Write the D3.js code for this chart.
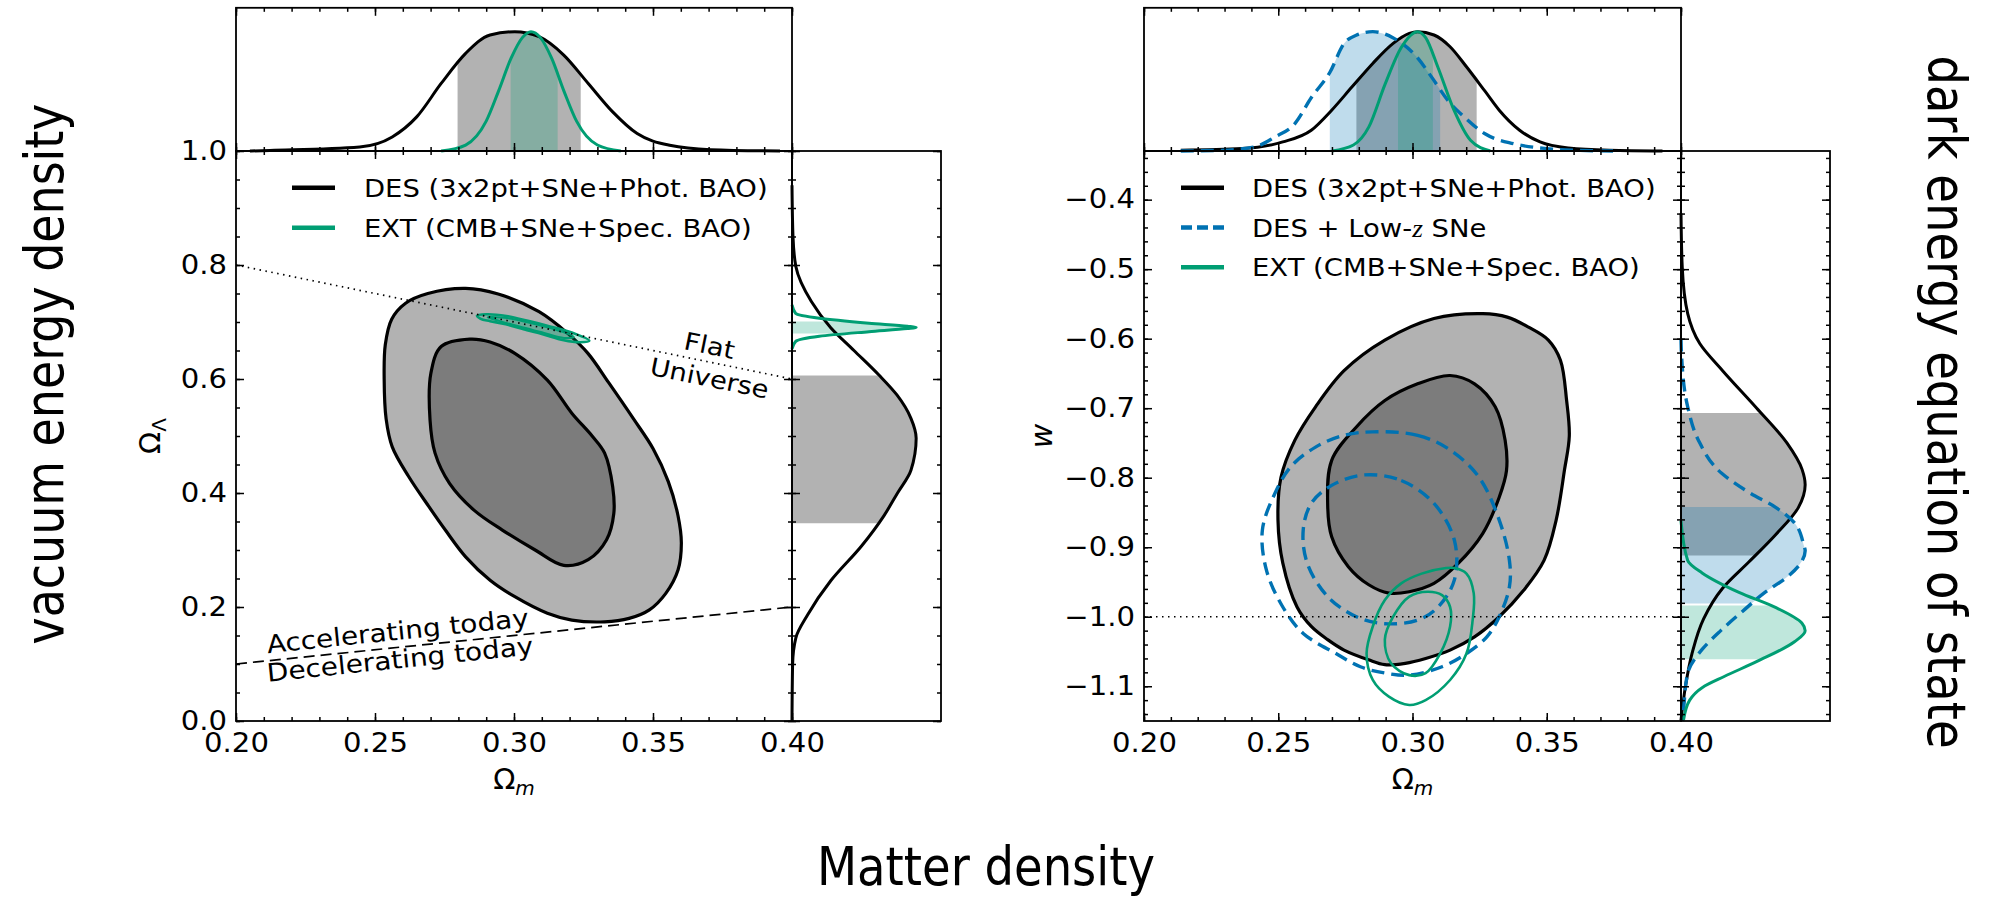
<!DOCTYPE html>
<html>
<head>
<meta charset="utf-8">
<script src="https://cdn.jsdelivr.net/npm/d3@7"></script>
<style>
  body { margin: 0; background: #fff; }
  svg text { font-family: "DejaVu Sans", sans-serif; }
</style>
</head>
<body>
<svg id="fig" width="1994" height="902"></svg>
<script>
// ---- tick values ----
const omMajor = [0.20, 0.25, 0.30, 0.35, 0.40];
const olMajor = [0.0, 0.2, 0.4, 0.6, 0.8, 1.0];
const wMajor  = [-1.1, -1.0, -0.9, -0.8, -0.7, -0.6, -0.5, -0.4];

// ---- left panel: Omega_m vs Omega_Lambda contours ----
const desOuterL = [[0.2826,0.759],[0.2943,0.749],[0.3090,0.718],[0.3193,0.680],[0.3266,0.645],[0.3340,0.594],
  [0.3430,0.530],[0.3500,0.478],[0.3555,0.420],[0.3590,0.360],[0.3602,0.312],[0.3590,0.265],[0.3546,0.224],
  [0.3487,0.195],[0.3414,0.180],[0.3326,0.174],[0.3208,0.177],[0.3120,0.189],[0.3003,0.218],[0.2914,0.247],
  [0.2826,0.288],[0.2753,0.335],[0.2694,0.376],[0.2621,0.429],[0.2562,0.481],[0.2540,0.530],[0.2533,0.600],
  [0.2537,0.660],[0.2560,0.705],[0.2610,0.733],[0.2690,0.750]];
const desInnerL = [[0.2841,0.670],[0.2914,0.665],[0.3003,0.645],[0.3120,0.598],[0.3208,0.540],[0.3281,0.500],
  [0.3326,0.470],[0.3355,0.411],[0.3359,0.364],[0.3333,0.318],[0.3267,0.283],[0.3179,0.273],[0.3076,0.300],
  [0.2958,0.335],[0.2856,0.370],[0.2768,0.417],[0.2716,0.470],[0.2698,0.528],[0.2701,0.610],[0.2738,0.657]];
const extOuterL = [[0.2867,0.711],[0.2900,0.7135],[0.2973,0.7105],[0.3050,0.702],[0.3120,0.6935],[0.3208,0.6815],
  [0.3271,0.667],[0.3237,0.6645],[0.3179,0.668],[0.3100,0.679],[0.3047,0.6855],[0.2970,0.696],[0.2914,0.7015],[0.2880,0.7055]];
const extInnerL = [[0.2905,0.708],[0.2975,0.707],[0.3060,0.698],[0.3140,0.688],[0.3215,0.674],[0.3180,0.672],
  [0.3100,0.682],[0.3020,0.692],[0.2950,0.7015]];

// 1D posteriors, left panel  [value, normalised density]
const margOmDesL = [[0.205,0],[0.2122,0.005],[0.2445,0.034],[0.2562,0.118],[0.265,0.286],[0.2738,0.566],[0.2826,0.818],
  [0.2914,0.972],[0.3003,1],[0.309,0.958],[0.3179,0.804],[0.3267,0.566],[0.3355,0.328],[0.3443,0.146],[0.356,0.048],
  [0.3707,0.011],[0.3957,0]];
const margOmExtL = [[0.2738,0],[0.2826,0.05],[0.2900,0.25],[0.2944,0.5],[0.2990,0.78],[0.3030,0.95],[0.3061,1],
  [0.3095,0.95],[0.3135,0.78],[0.3180,0.5],[0.3225,0.25],[0.3300,0.05],[0.3384,0]];
const margOlDes = [[0.94,0],[0.85,0.008],[0.7975,0.031],[0.736,0.156],[0.69,0.312],[0.65,0.499],[0.607,0.70],
  [0.572,0.845],[0.531,0.958],[0.496,1.0],[0.44,0.958],[0.40,0.85],[0.36,0.74],[0.307,0.56],[0.246,0.312],
  [0.186,0.125],[0.146,0.031],[0.10,0.005],[0.0,0]];
const margOlExt = [[0.730,0],[0.715,0.03],[0.7067,0.22],[0.698,0.62],[0.6925,0.93],[0.6905,1],[0.6885,0.93],
  [0.683,0.62],[0.675,0.22],[0.666,0.03],[0.653,0]];
const bandsOmL = [[0.2797,0.3240],[0.2988,0.3157]];   // DES, EXT
const bandsOl  = [[0.347,0.606],[0.680,0.701]];       // DES, EXT

// ---- right panel: Omega_m vs w contours ----
const desOuterR = [[0.3262,-0.564],[0.3353,-0.569],[0.3430,-0.583],[0.3506,-0.602],[0.3551,-0.631],[0.3574,-0.689],
  [0.3584,-0.740],[0.3566,-0.789],[0.3535,-0.861],[0.3490,-0.919],[0.3414,-0.962],[0.3323,-1.000],[0.3231,-1.029],
  [0.3140,-1.048],[0.3049,-1.060],[0.2973,-1.067],[0.2897,-1.069],[0.2836,-1.062],[0.2745,-1.048],[0.2684,-1.033],
  [0.2623,-1.014],[0.2570,-0.986],[0.2517,-0.923],[0.2499,-0.861],[0.2510,-0.800],[0.2562,-0.746],[0.2639,-0.698],
  [0.2745,-0.646],[0.2897,-0.602],[0.3080,-0.571]];
const desInnerR = [[0.3140,-0.653],[0.3231,-0.665],[0.3308,-0.698],[0.3345,-0.746],[0.3350,-0.790],[0.3323,-0.828],
  [0.3262,-0.880],[0.3171,-0.923],[0.3080,-0.952],[0.2988,-0.964],[0.2912,-0.966],[0.2837,-0.954],[0.2761,-0.928],
  [0.2699,-0.885],[0.2684,-0.837],[0.2699,-0.775],[0.2791,-0.727],[0.2897,-0.689],[0.3019,-0.665]];
const lowzOuter = [[0.2852,-0.734],[0.3019,-0.739],[0.3140,-0.760],[0.3247,-0.799],[0.3323,-0.861],[0.3361,-0.919],
  [0.3361,-0.957],[0.3323,-1.000],[0.3277,-1.029],[0.3201,-1.053],[0.3110,-1.072],[0.2988,-1.084],[0.2897,-1.081],
  [0.2806,-1.072],[0.2715,-1.053],[0.2593,-1.024],[0.2517,-0.986],[0.2456,-0.933],[0.2441,-0.875],[0.2487,-0.823],
  [0.2547,-0.784],[0.2639,-0.756],[0.2745,-0.739]];
const lowzInner = [[0.2821,-0.796],[0.2958,-0.804],[0.3080,-0.837],[0.3156,-0.890],[0.3156,-0.947],[0.3095,-0.986],
  [0.3019,-1.005],[0.2897,-1.010],[0.2791,-1.000],[0.2684,-0.971],[0.2608,-0.923],[0.2593,-0.875],[0.2623,-0.837],[0.2699,-0.811]];
const extOuterR = [[0.3125,-0.930],[0.3156,-0.930],[0.3201,-0.938],[0.3228,-0.966],[0.3224,-1.005],[0.3201,-1.053],
  [0.3140,-1.091],[0.3049,-1.120],[0.2988,-1.127],[0.2912,-1.115],[0.2852,-1.091],[0.2829,-1.053],[0.2852,-1.014],
  [0.2897,-0.976],[0.2958,-0.952],[0.3034,-0.938]];
const extInnerR = [[0.3057,-0.964],[0.3110,-0.969],[0.3140,-0.986],[0.3140,-1.014],[0.3103,-1.053],[0.3049,-1.081],
  [0.2988,-1.084],[0.2920,-1.067],[0.2897,-1.033],[0.2928,-1.000],[0.2988,-0.971]];

// 1D posteriors, right panel
const margOmDesR = [[0.2137,0.006],[0.2365,0.02],[0.2517,0.076],[0.2623,0.174],[0.2699,0.342],[0.2775,0.538],
  [0.2852,0.734],[0.2928,0.902],[0.2988,0.986],[0.3019,1],[0.308,0.972],[0.314,0.874],[0.3201,0.706],[0.327,0.501],
  [0.3323,0.342],[0.3399,0.174],[0.3475,0.076],[0.3581,0.025],[0.3733,0.006],[0.3931,0]];
const margOmLowz = [[0.2137,0],[0.228,0.005],[0.241,0.033],[0.2487,0.117],[0.2562,0.23],[0.2624,0.45],[0.2692,0.658],
  [0.2745,0.9],[0.279,0.97],[0.2852,1],[0.2927,0.95],[0.3019,0.78],[0.3072,0.617],[0.3133,0.42],[0.3194,0.283],
  [0.327,0.144],[0.3377,0.061],[0.35,0.02],[0.3625,0.005],[0.375,0]];
const margOmExtR = [[0.2700,0],[0.2780,0.05],[0.2837,0.2],[0.2898,0.56],[0.2958,0.867],[0.3019,1],[0.3049,0.95],
  [0.3095,0.7],[0.3155,0.34],[0.3216,0.09],[0.329,0]];
const margWDes = [[-0.42,0],[-0.497,0.01],[-0.564,0.054],[-0.607,0.151],[-0.646,0.335],[-0.70,0.61],[-0.75,0.853],
  [-0.788,0.975],[-0.810,1.0],[-0.843,0.945],[-0.882,0.762],[-0.921,0.548],[-0.959,0.335],[-1.003,0.182],[-1.052,0.09],
  [-1.10,0.036],[-1.149,0]];
const margWLowz = [[-0.60,0],[-0.626,0.005],[-0.698,0.054],[-0.746,0.14],[-0.794,0.33],[-0.822,0.556],[-0.843,0.765],
  [-0.865,0.914],[-0.898,0.99],[-0.905,1.0],[-0.921,0.97],[-0.943,0.854],[-0.965,0.676],[-0.992,0.497],[-1.02,0.32],
  [-1.047,0.17],[-1.081,0.054],[-1.134,0.02],[-1.15,0.01]];
const margWExt = [[-0.862,0],[-0.919,0.054],[-0.937,0.17],[-0.965,0.467],[-0.987,0.765],[-1.009,0.973],[-1.02,1.0],
  [-1.036,0.914],[-1.064,0.616],[-1.086,0.348],[-1.102,0.17],[-1.12,0.07],[-1.149,0.02]];
const bandsOmR = [[0.2791,0.3239],[0.2692,0.3103],[0.2946,0.3076]];   // DES, DES+low-z, EXT
const bandsW   = [[-0.912,-0.707],[-0.981,-0.842],[-1.061,-0.984]];

const legendL = ['DES (3x2pt+SNe+Phot. BAO)', 'EXT (CMB+SNe+Spec. BAO)'];
const legendR = ['DES (3x2pt+SNe+Phot. BAO)', 'DES + Low-z SNe', 'EXT (CMB+SNe+Spec. BAO)'];

// ---- styling ----
const BLACK = '#000', BLUE = '#0072B2', GREEN = '#009E73';
const DASH = '13,7';
const SX = 1.12;            // text in this figure is slightly wider than tall
const svg = d3.select('#fig');
const closed = d3.line().curve(d3.curveCatmullRomClosed.alpha(0.5));

// ---- layout ----
const L = { x0: 236, x1: 792, y0: 721, y1: 151, top: 7.8, side: 941 };
const R = { x0: 1144, x1: 1681, y0: 721, y1: 151, top: 7.8, side: 1830 };

const xL = d3.scaleLinear([0.2, 0.4], [L.x0, L.x1]);
const yL = d3.scaleLinear([0, 1], [L.y0, L.y1]);
const hTopL = d3.scaleLinear([0, 1.2], [L.y1, L.top]);
const hSideL = d3.scaleLinear([0, 1.2], [L.x1, L.side]);

const xR = d3.scaleLinear([0.2, 0.4], [R.x0, R.x1]);
const yR = d3.scaleLinear([-1.15, -0.33], [R.y0, R.y1]);
const hTopR = d3.scaleLinear([0, 1.2], [R.y1, R.top]);
const hSideR = d3.scaleLinear([0, 1.2], [R.x1, R.side]);

function frame(x0, y0, x1, y1) {
  svg.append('rect')
    .attr('x', x0).attr('y', y0).attr('width', x1 - x0).attr('height', y1 - y0)
    .attr('fill', 'none').attr('stroke', BLACK).attr('stroke-width', 1.8);
}

// inward ticks, matplotlib style: minor + major, labels only where fmt given
function ticks(axisFn, scale, tx, ty, majors, minors, fmt, pad) {
  const gMin = svg.append('g').attr('transform', `translate(${tx},${ty})`)
    .call(axisFn(scale).tickValues(minors).tickSizeInner(-4).tickSizeOuter(0).tickFormat(''));
  const gMaj = svg.append('g').attr('transform', `translate(${tx},${ty})`)
    .call(axisFn(scale).tickValues(majors).tickSizeInner(-8).tickSizeOuter(0)
      .tickPadding(pad || 13).tickFormat(fmt || ''));
  [gMin, gMaj].forEach(s => {
    s.select('.domain').remove();
    s.selectAll('line').attr('stroke', BLACK).attr('stroke-width', 1.5);
  });
  gMaj.selectAll('text')
    .attr('font-size', 26).attr('fill', BLACK).attr('font-family', 'DejaVu Sans')
    .attr('transform', `scale(${SX},1)`);
}

function contour(pts, x, y, o) {
  svg.append('path')
    .attr('d', closed(pts.map(p => [x(p[0]), y(p[1])])))
    .attr('fill', o.fill || 'none')
    .attr('fill-opacity', o.fillOpacity == null ? 1 : o.fillOpacity)
    .attr('stroke', o.stroke || 'none')
    .attr('stroke-width', o.width || 3)
    .attr('stroke-dasharray', o.dash || null)
    .attr('stroke-linejoin', 'round');
}

let clipN = 0;
function clipRect(x, y, w, h) {
  const id = 'clip' + (clipN++);
  svg.append('clipPath').attr('id', id).append('rect')
    .attr('x', x).attr('y', y).attr('width', w).attr('height', h);
  return `url(#${id})`;
}

// top marginal: density drawn upward from the shared x axis
function topFill(pts, x, h, band, col, op) {
  const d = pts.slice().sort((a, b) => a[0] - b[0]);
  svg.append('path')
    .attr('clip-path', clipRect(x(band[0]), h(1.2), x(band[1]) - x(band[0]), h(0) - h(1.2)))
    .attr('d', d3.area().x(p => x(p[0])).y0(h(0)).y1(p => h(p[1])).curve(d3.curveMonotoneX)(d))
    .attr('fill', col).attr('fill-opacity', op);
}
function topLine(pts, x, h, col, dash) {
  const d = pts.slice().sort((a, b) => a[0] - b[0]);
  svg.append('path')
    .attr('d', d3.line().x(p => x(p[0])).y(p => h(p[1])).curve(d3.curveMonotoneX)(d))
    .attr('fill', 'none').attr('stroke', col).attr('stroke-width', dash ? 3.4 : 3)
    .attr('stroke-dasharray', dash || null);
}
// side marginal: density drawn rightward from the shared y axis
function sideFill(pts, y, h, band, col, op) {
  const d = pts.slice().sort((a, b) => b[0] - a[0]);
  svg.append('path')
    .attr('clip-path', clipRect(h(0), y(band[1]), h(1.2) - h(0), y(band[0]) - y(band[1])))
    .attr('d', d3.area().y(p => y(p[0])).x0(h(0)).x1(p => h(p[1])).curve(d3.curveMonotoneY)(d))
    .attr('fill', col).attr('fill-opacity', op);
}
function sideLine(pts, y, h, col, dash) {
  const d = pts.slice().sort((a, b) => b[0] - a[0]);
  svg.append('path')
    .attr('d', d3.line().y(p => y(p[0])).x(p => h(p[1])).curve(d3.curveMonotoneY)(d))
    .attr('fill', 'none').attr('stroke', col).attr('stroke-width', dash ? 3.4 : 3)
    .attr('stroke-dasharray', dash || null);
}

function stretchedText(x, y, str, size, rot, anchor) {
  return svg.append('text')
    .attr('transform', `translate(${x},${y}) rotate(${rot || 0}) scale(${SX},1)`)
    .attr('font-size', size).attr('text-anchor', anchor || 'start').attr('fill', BLACK)
    .text(str);
}

function legend(labels, styles, lx0, lx1, tx, y0, step) {
  labels.forEach((lab, i) => {
    const yy = y0 + i * step;
    svg.append('line').attr('x1', lx0).attr('x2', lx1).attr('y1', yy).attr('y2', yy)
      .attr('stroke', styles[i].col).attr('stroke-width', 4.5)
      .attr('stroke-dasharray', styles[i].dash || null);
    const t = svg.append('text')
      .attr('transform', `translate(${tx},${yy + 9}) scale(${SX},1)`)
      .attr('font-size', 24.5).attr('fill', BLACK);
    const m = lab.match(/^(.*-)z( .*)$/);
    if (m) {
      t.append('tspan').text(m[1]);
      t.append('tspan').attr('font-family', 'Liberation Serif').attr('font-style', 'italic').text('z');
      t.append('tspan').text(m[2]);
    } else t.text(lab);
  });
}

function omegaLabel(cx, by, sub, rot) {
  const t = svg.append('text')
    .attr('transform', `translate(${cx},${by}) rotate(${rot || 0})`)
    .attr('text-anchor', 'middle').attr('font-family', 'Liberation Serif').attr('fill', BLACK);
  t.append('tspan').attr('font-size', 29).text('\u03A9');
  t.append('tspan').attr('font-size', 20).attr('dy', 6)
    .attr('font-style', sub === 'm' ? 'italic' : 'normal').text(sub);
}

// ================= LEFT PANEL =================
contour(desOuterL, xL, yL, { fill: BLACK, fillOpacity: 0.3, stroke: BLACK, width: 3.2 });
contour(desInnerL, xL, yL, { fill: BLACK, fillOpacity: 0.3, stroke: BLACK, width: 3.2 });
contour(extOuterL, xL, yL, { fill: GREEN, fillOpacity: 0.25, stroke: GREEN, width: 2.6 });
contour(extInnerL, xL, yL, { fill: GREEN, fillOpacity: 0.2, stroke: GREEN, width: 2 });

// flat universe and acceleration boundaries
const flat = [[0.2, 0.8], [0.4, 0.6]];
const accel = [[0.2, 0.1], [0.4, 0.2]];
svg.append('path').attr('d', d3.line()(flat.map(p => [xL(p[0]), yL(p[1])])))
  .attr('stroke', BLACK).attr('stroke-width', 1.7).attr('stroke-dasharray', '1.5,4.5').attr('fill', 'none');
svg.append('path').attr('d', d3.line()(accel.map(p => [xL(p[0]), yL(p[1])])))
  .attr('stroke', BLACK).attr('stroke-width', 1.7).attr('stroke-dasharray', '11,6').attr('fill', 'none');

const angFlat = Math.atan2(yL(0.6) - yL(0.8), xL(0.4) - xL(0.2)) * 180 / Math.PI;
const angAcc = Math.atan2(yL(0.2) - yL(0.1), xL(0.4) - xL(0.2)) * 180 / Math.PI;
stretchedText(xL(0.3697), yL(0.6596) + 9, 'Flat', 24.5, angFlat, 'middle');
stretchedText(xL(0.3697), yL(0.6026) + 9, 'Universe', 24.5, angFlat, 'middle');
stretchedText(xL(0.2114), yL(0.119), 'Accelerating today', 25, angAcc);
stretchedText(xL(0.2114), yL(0.069), 'Decelerating today', 25, angAcc);

// marginals
topFill(margOmDesL, xL, hTopL, bandsOmL[0], BLACK, 0.3);
topFill(margOmExtL, xL, hTopL, bandsOmL[1], GREEN, 0.25);
topLine(margOmDesL, xL, hTopL, BLACK);
topLine(margOmExtL, xL, hTopL, GREEN);
sideFill(margOlDes, yL, hSideL, bandsOl[0], BLACK, 0.3);
sideFill(margOlExt, yL, hSideL, bandsOl[1], GREEN, 0.25);
sideLine(margOlDes, yL, hSideL, BLACK);
sideLine(margOlExt, yL, hSideL, GREEN);

// frames and ticks
frame(L.x0, L.y1, L.x1, L.y0);
frame(L.x0, L.top, L.x1, L.y1);
frame(L.x1, L.y1, L.side, L.y0);
const omMinorL = xL.ticks(20), olMinor = yL.ticks(20);
ticks(d3.axisBottom, xL, 0, L.y0, omMajor, omMinorL, d3.format('.2f'));
ticks(d3.axisTop, xL, 0, L.y1, omMajor, omMinorL);
ticks(d3.axisBottom, xL, 0, L.y1, omMajor, omMinorL);
ticks(d3.axisTop, xL, 0, L.top, omMajor, omMinorL);
ticks(d3.axisLeft, yL, L.x0, 0, olMajor, olMinor, d3.format('.1f'), 8);
ticks(d3.axisRight, yL, L.x1, 0, olMajor, olMinor);
ticks(d3.axisLeft, yL, L.x1, 0, olMajor, olMinor);
ticks(d3.axisRight, yL, L.side, 0, olMajor, olMinor);

legend(legendL, [{ col: BLACK }, { col: GREEN }], 292, 335, 364, 187.7, 40);
omegaLabel((L.x0 + L.x1) / 2, 789, 'm');
omegaLabel(160, (L.y0 + L.y1) / 2, '\u039B', -90);

// ================= RIGHT PANEL =================
contour(desOuterR, xR, yR, { fill: BLACK, fillOpacity: 0.3, stroke: BLACK, width: 3.2 });
contour(desInnerR, xR, yR, { fill: BLACK, fillOpacity: 0.3, stroke: BLACK, width: 3.2 });
contour(lowzOuter, xR, yR, { stroke: BLUE, width: 3.4, dash: DASH });
contour(lowzInner, xR, yR, { stroke: BLUE, width: 3.4, dash: DASH });
contour(extOuterR, xR, yR, { stroke: GREEN, width: 2.6 });
contour(extInnerR, xR, yR, { stroke: GREEN, width: 2.6 });

// cosmological constant
svg.append('line').attr('x1', xR(0.2)).attr('x2', xR(0.4)).attr('y1', yR(-1)).attr('y2', yR(-1))
  .attr('stroke', BLACK).attr('stroke-width', 1.7).attr('stroke-dasharray', '1.5,4.5');

topFill(margOmDesR, xR, hTopR, bandsOmR[0], BLACK, 0.3);
topFill(margOmLowz, xR, hTopR, bandsOmR[1], BLUE, 0.25);
topFill(margOmExtR, xR, hTopR, bandsOmR[2], GREEN, 0.25);
topLine(margOmDesR, xR, hTopR, BLACK);
topLine(margOmLowz, xR, hTopR, BLUE, DASH);
topLine(margOmExtR, xR, hTopR, GREEN);
sideFill(margWDes, yR, hSideR, bandsW[0], BLACK, 0.3);
sideFill(margWLowz, yR, hSideR, bandsW[1], BLUE, 0.25);
sideFill(margWExt, yR, hSideR, bandsW[2], GREEN, 0.25);
sideLine(margWDes, yR, hSideR, BLACK);
sideLine(margWLowz, yR, hSideR, BLUE, DASH);
sideLine(margWExt, yR, hSideR, GREEN);

frame(R.x0, R.y1, R.x1, R.y0);
frame(R.x0, R.top, R.x1, R.y1);
frame(R.x1, R.y1, R.side, R.y0);
const omMinorR = xR.ticks(20), wMinor = yR.ticks(40);
ticks(d3.axisBottom, xR, 0, R.y0, omMajor, omMinorR, d3.format('.2f'));
ticks(d3.axisTop, xR, 0, R.y1, omMajor, omMinorR);
ticks(d3.axisBottom, xR, 0, R.y1, omMajor, omMinorR);
ticks(d3.axisTop, xR, 0, R.top, omMajor, omMinorR);
ticks(d3.axisLeft, yR, R.x0, 0, wMajor, wMinor, d3.format('.1f'), 8);
ticks(d3.axisRight, yR, R.x1, 0, wMajor, wMinor);
ticks(d3.axisLeft, yR, R.x1, 0, wMajor, wMinor);
ticks(d3.axisRight, yR, R.side, 0, wMajor, wMinor);

legend(legendR, [{ col: BLACK }, { col: BLUE, dash: '11,5' }, { col: GREEN }], 1181, 1224, 1252, 187.7, 39.8);
omegaLabel((R.x0 + R.x1) / 2, 789, 'm');
svg.append('text')
  .attr('transform', `translate(1052,${(R.y0 + R.y1) / 2}) rotate(-90)`)
  .attr('text-anchor', 'middle').attr('font-family', 'Liberation Serif')
  .attr('font-style', 'italic').attr('font-size', 30).attr('fill', BLACK).text('w');

// ================= big captions =================
function caption(x, y, rot, str, len) {
  svg.append('text')
    .attr('transform', `translate(${x},${y}) rotate(${rot})`)
    .attr('text-anchor', 'middle').attr('font-family', 'Lato').attr('font-size', 54)
    .attr('textLength', len).attr('lengthAdjust', 'spacingAndGlyphs')
    .attr('fill', BLACK).text(str);
}
caption(63, 374, -90, 'vacuum energy density', 541);
caption(986, 885, 0, 'Matter density', 338);
caption(1928, 402, 90, 'dark energy equation of state', 693);
</script>
</body>
</html>
